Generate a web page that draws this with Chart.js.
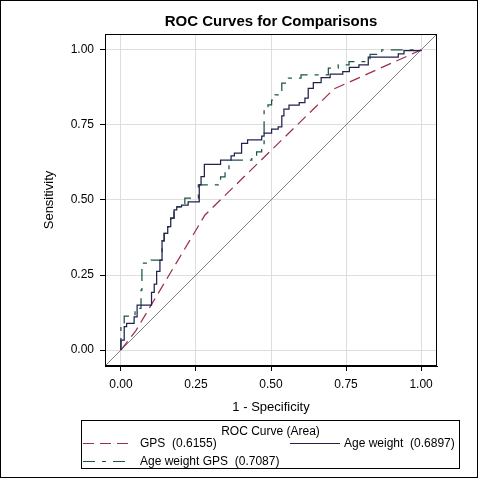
<!DOCTYPE html>
<html>
<head>
<meta charset="utf-8">
<script src="https://cdn.jsdelivr.net/npm/chart.js"></script>
<style>
  html, body { margin: 0; padding: 0; background: #ffffff; }
  #wrap { width: 480px; height: 480px; }
</style>
</head>
<body>
<div id="wrap"><canvas id="c" width="480" height="480"></canvas></div>
<script>
// ---- data ----
const chartTitle = "ROC Curves for Comparisons";
const xTitle = "1 - Specificity";
const yTitle = "Sensitivity";
const legendTitle = "ROC Curve (Area)";
const seriesNames = ["GPS", "Age weight", "Age weight GPS"];
const aucValues = ["0.6155", "0.6897", "0.7087"];
const tickValues = [0, 0.25, 0.5, 0.75, 1];
const tickLabels = ["0.00", "0.25", "0.50", "0.75", "1.00"];
const axisMin = -0.053;
const axisMax = 1.053;

const gpsFpr = [0, 0.05, 0.28, 0.71, 1];
const gpsTpr = [0, 0.065, 0.45, 0.87, 1];

const awFpr = [0, 0, 0.011, 0.019, 0.044, 0.054, 0.102, 0.111, 0.119, 0.130, 0.137, 0.144, 0.156, 0.166, 0.177, 0.186, 0.202, 0.224, 0.261, 0.267, 0.278, 0.332, 0.367, 0.378, 0.402, 0.422, 0.469, 0.477, 0.502, 0.524, 0.536, 0.543, 0.560, 0.594, 0.613, 0.624, 0.641, 0.667, 0.697, 0.739, 0.761, 0.793, 0.824, 0.924, 0.943, 1];
const awTpr = [0, 0.033, 0.078, 0.089, 0.111, 0.150, 0.192, 0.220, 0.262, 0.300, 0.364, 0.389, 0.411, 0.440, 0.467, 0.477, 0.483, 0.494, 0.550, 0.578, 0.619, 0.633, 0.647, 0.656, 0.689, 0.700, 0.713, 0.723, 0.736, 0.744, 0.780, 0.803, 0.816, 0.824, 0.839, 0.872, 0.891, 0.908, 0.919, 0.928, 0.942, 0.950, 0.976, 0.987, 0.998, 1];

const awgFpr = [0, 0, 0.011, 0.047, 0.067, 0.070, 0.100, 0.137, 0.144, 0.156, 0.166, 0.177, 0.186, 0.213, 0.258, 0.332, 0.347, 0.360, 0.436, 0.452, 0.469, 0.477, 0.490, 0.502, 0.513, 0.536, 0.558, 0.600, 0.691, 0.724, 0.760, 0.830, 0.869, 1];
const awgTpr = [0, 0.087, 0.113, 0.139, 0.200, 0.290, 0.300, 0.364, 0.389, 0.411, 0.440, 0.467, 0.477, 0.506, 0.550, 0.577, 0.600, 0.633, 0.644, 0.660, 0.683, 0.800, 0.817, 0.833, 0.850, 0.889, 0.906, 0.917, 0.939, 0.950, 0.961, 0.985, 1.000, 1];

const diagX = [axisMin, axisMax];
const diagY = [axisMin, axisMax];

// ---- styles ----
const FONT = "'Liberation Sans', Arial, sans-serif";
const colGPS = "#9A3048";
const colAW = "#22224E";
const colAWG = "#1A5446";
const colDiag = "#808080";
const dashGPS = [11, 6];
const dashAWG = [12, 7, 4, 7];
const LW = 1.25;

function pairs(xs, ys) { return xs.map((x, i) => ({ x: x, y: ys[i] })); }
function stairs(xs, ys) {
  const pts = [{ x: xs[0], y: ys[0] }];
  for (let i = 1; i < xs.length; i++) {
    pts.push({ x: xs[i], y: ys[i - 1] });
    pts.push({ x: xs[i], y: ys[i] });
  }
  return pts;
}

const decor = {
  id: 'decor',
  afterDraw(chart) {
    const ctx = chart.ctx;
    const a = chart.chartArea;
    ctx.save();
    // plot frame
    ctx.strokeStyle = '#000';
    ctx.lineWidth = 1;
    ctx.setLineDash([]);
    ctx.strokeRect(Math.round(a.left) + 0.5, Math.round(a.top) + 0.5,
                   Math.round(a.right - a.left) - 1, Math.round(a.bottom - a.top) - 1);
    // outer frame
    ctx.strokeRect(0.5, 0.5, 477, 477);
    // title
    const cx = (a.left + a.right) / 2;
    ctx.fillStyle = '#000';
    ctx.font = "bold 15px " + FONT;
    ctx.textAlign = 'center';
    ctx.textBaseline = 'alphabetic';
    ctx.fillText(chartTitle, cx, 26);
    // axis titles
    ctx.font = "13px " + FONT;
    ctx.fillText(xTitle, cx, 411);
    ctx.save();
    ctx.translate(53, (a.top + a.bottom) / 2);
    ctx.rotate(-Math.PI / 2);
    ctx.fillText(yTitle, 0, 0);
    ctx.restore();
    // legend
    const lx = 81.5, ly = 420.5, lw = 378, lh = 48;
    ctx.strokeStyle = '#000';
    ctx.strokeRect(lx, ly, lw, lh);
    ctx.font = "12px " + FONT;
    ctx.textBaseline = 'middle';
    ctx.textAlign = 'center';
    ctx.fillText(legendTitle, lx + lw / 2, 432);
    const entries = [
      { x1: 83, x2: 131, tx: 140, y: 443.5, col: colGPS, dash: dashGPS, idx: 0 },
      { x1: 290, x2: 340, tx: 344, y: 443.5, col: colAW, dash: [], idx: 1 },
      { x1: 83, x2: 131, tx: 140, y: 461.5, col: colAWG, dash: dashAWG, idx: 2 }
    ];
    ctx.textAlign = 'left';
    entries.forEach(e => {
      ctx.strokeStyle = e.col;
      ctx.lineWidth = 1;
      ctx.setLineDash(e.dash);
      ctx.beginPath();
      ctx.moveTo(e.x1, e.y);
      ctx.lineTo(e.x2, e.y);
      ctx.stroke();
      ctx.setLineDash([]);
      ctx.fillStyle = '#000';
      ctx.fillText(seriesNames[e.idx] + "  (" + aucValues[e.idx] + ")", e.tx, e.y);
    });
    ctx.restore();
  }
};

const axisCommon = {
  type: 'linear',
  min: axisMin,
  max: axisMax,
  grid: { color: '#DEDEDE', tickColor: '#000', tickLength: 5, lineWidth: 1 },
  border: { display: true, color: '#000' },
  ticks: {
    includeBounds: false,
    color: '#000',
    font: { family: FONT, size: 12 },
    padding: 6,
    maxRotation: 0,
    callback: (v) => { const i = tickValues.indexOf(v); return i >= 0 ? tickLabels[i] : ''; }
  },
  afterBuildTicks: (scale) => { scale.ticks = tickValues.map(v => ({ value: v })); }
};

new Chart(document.getElementById('c'), {
  type: 'line',
  data: {
    datasets: [
      { label: seriesNames[1], data: stairs(awFpr, awTpr), borderColor: colAW, borderWidth: LW, pointRadius: 0, fill: false, tension: 0 },
      { label: seriesNames[2], data: stairs(awgFpr, awgTpr), borderColor: colAWG, borderWidth: LW, borderDash: dashAWG, pointRadius: 0, fill: false, tension: 0 },
      { label: seriesNames[0], data: pairs(gpsFpr, gpsTpr), borderColor: colGPS, borderWidth: LW, borderDash: dashGPS, pointRadius: 0, fill: false, tension: 0 },
      { label: 'diag', data: pairs(diagX, diagY), borderColor: colDiag, borderWidth: 1, pointRadius: 0, fill: false, tension: 0 }
    ]
  },
  options: {
    responsive: false,
    animation: false,
    devicePixelRatio: 1,
    layout: { padding: { left: 0, top: 34, right: 43, bottom: 0 } },
    plugins: { legend: { display: false }, title: { display: false }, tooltip: { enabled: false } },
    scales: {
      x: Object.assign({}, axisCommon, { position: 'bottom', afterFit: (s) => { s.height = 114; } }),
      y: Object.assign({}, axisCommon, { position: 'left', afterFit: (s) => { s.width = 105; } })
    }
  },
  plugins: [decor]
});
</script>
</body>
</html>
